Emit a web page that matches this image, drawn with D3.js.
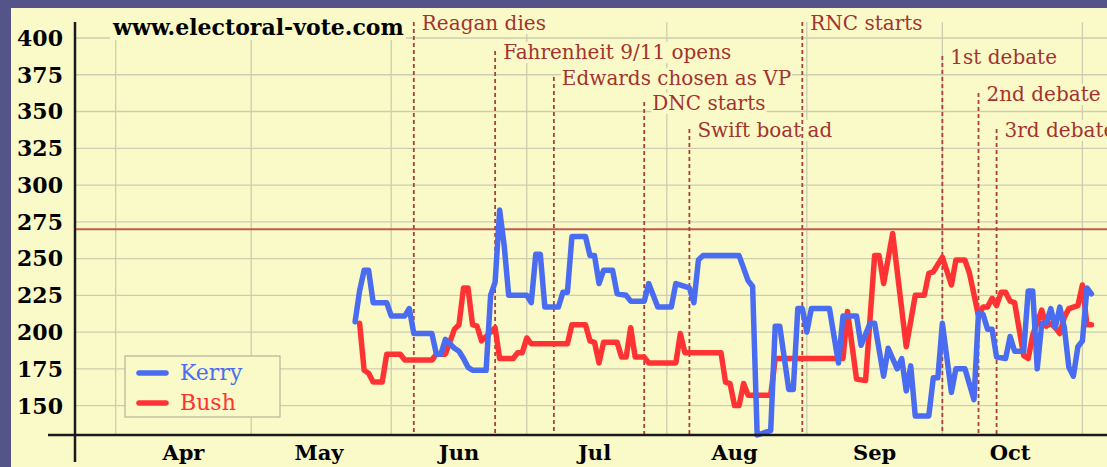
<!DOCTYPE html>
<html lang="en">
<head>
<meta charset="UTF-8">
<title>Electoral votes 2004</title>
<script src="https://d3js.org/d3.v7.min.js"></script>
<style>
  body { margin: 0; background: #545488; overflow: hidden; }
  svg { display: block; }
</style>
</head>
<body>
<div id="chart"></div>
<script>
// electoral votes per day
const kerryDates = [
  "2004-05-24", "2004-05-25", "2004-05-26", "2004-05-27", "2004-05-28", "2004-05-31",
  "2004-06-01", "2004-06-04", "2004-06-05", "2004-06-06", "2004-06-10", "2004-06-11",
  "2004-06-12", "2004-06-13", "2004-06-15", "2004-06-16", "2004-06-17", "2004-06-18",
  "2004-06-19", "2004-06-22", "2004-06-23", "2004-06-24", "2004-06-25", "2004-06-26",
  "2004-06-27", "2004-07-01", "2004-07-02", "2004-07-03", "2004-07-04", "2004-07-05",
  "2004-07-08", "2004-07-09", "2004-07-10", "2004-07-11", "2004-07-14", "2004-07-15",
  "2004-07-16", "2004-07-17", "2004-07-18", "2004-07-20", "2004-07-21", "2004-07-23",
  "2004-07-24", "2004-07-27", "2004-07-28", "2004-07-30", "2004-08-02", "2004-08-03",
  "2004-08-06", "2004-08-07", "2004-08-08", "2004-08-09", "2004-08-17", "2004-08-19",
  "2004-08-20", "2004-08-21", "2004-08-24", "2004-08-25", "2004-08-26", "2004-08-28",
  "2004-08-29", "2004-08-30", "2004-08-31", "2004-09-01", "2004-09-02", "2004-09-06",
  "2004-09-08", "2004-09-09", "2004-09-12", "2004-09-13", "2004-09-15", "2004-09-16",
  "2004-09-18", "2004-09-19", "2004-09-21", "2004-09-22", "2004-09-23", "2004-09-24",
  "2004-09-25", "2004-09-28", "2004-09-29", "2004-09-30", "2004-10-01", "2004-10-03",
  "2004-10-04", "2004-10-06", "2004-10-08", "2004-10-09", "2004-10-10", "2004-10-11",
  "2004-10-12", "2004-10-13", "2004-10-15", "2004-10-16", "2004-10-17", "2004-10-19",
  "2004-10-20", "2004-10-21", "2004-10-22", "2004-10-23", "2004-10-24", "2004-10-25",
  "2004-10-26", "2004-10-27", "2004-10-28", "2004-10-29", "2004-10-30", "2004-10-31",
  "2004-11-01", "2004-11-02", "2004-11-03"
];
const kerryVotes = [
  207, 228, 242, 242, 220, 220,
  211, 211, 216, 199, 199, 185,
  185, 195, 189, 187, 182, 176,
  174, 174, 225, 234, 283, 259,
  225, 225, 220, 253, 253, 217,
  217, 227, 227, 265, 265, 252,
  252, 233, 242, 242, 226, 225,
  221, 221, 233, 217, 217, 233,
  230, 220, 249, 252, 252, 235,
  231, 130, 133, 204, 204, 161,
  161, 216, 216, 200, 216, 216,
  179, 211, 211, 191, 206, 206,
  170, 189, 175, 182, 160, 177,
  143, 143, 169, 169, 206, 159,
  175, 175, 154, 213, 212, 202,
  202, 183, 182, 197, 187, 187,
  228, 228, 175, 206, 206, 216,
  203, 217, 203, 176, 170, 190,
  194, 230, 226
];

const bushDates = [
  "2004-05-25", "2004-05-26", "2004-05-27", "2004-05-28", "2004-05-30", "2004-05-31",
  "2004-06-03", "2004-06-04", "2004-06-10", "2004-06-11", "2004-06-13", "2004-06-15",
  "2004-06-16", "2004-06-17", "2004-06-18", "2004-06-19", "2004-06-20", "2004-06-21",
  "2004-06-24", "2004-06-25", "2004-06-28", "2004-06-29", "2004-06-30", "2004-07-01",
  "2004-07-02", "2004-07-10", "2004-07-11", "2004-07-14", "2004-07-15", "2004-07-16",
  "2004-07-17", "2004-07-18", "2004-07-21", "2004-07-22", "2004-07-23", "2004-07-24",
  "2004-07-25", "2004-07-27", "2004-07-28", "2004-08-03", "2004-08-04", "2004-08-05",
  "2004-08-13", "2004-08-14", "2004-08-15", "2004-08-16", "2004-08-17", "2004-08-18",
  "2004-08-19", "2004-08-24", "2004-08-25", "2004-09-09", "2004-09-10", "2004-09-12",
  "2004-09-14", "2004-09-16", "2004-09-17", "2004-09-18", "2004-09-20", "2004-09-23",
  "2004-09-25", "2004-09-27", "2004-09-28", "2004-09-29", "2004-10-01", "2004-10-03",
  "2004-10-04", "2004-10-06", "2004-10-07", "2004-10-09", "2004-10-10", "2004-10-11",
  "2004-10-12", "2004-10-13", "2004-10-14", "2004-10-15", "2004-10-16", "2004-10-17",
  "2004-10-19", "2004-10-20", "2004-10-21", "2004-10-23", "2004-10-24", "2004-10-25",
  "2004-10-26", "2004-10-27", "2004-10-28", "2004-10-29", "2004-10-31", "2004-11-01",
  "2004-11-02", "2004-11-03"
];
const bushVotes = [
  206, 174, 172, 166, 166, 185,
  185, 181, 181, 185, 185, 202,
  205, 230, 230, 205, 204, 194,
  203, 182, 182, 186, 186, 196,
  192, 192, 205, 205, 194, 193,
  179, 193, 193, 183, 183, 203,
  183, 183, 179, 179, 199, 186,
  186, 166, 165, 150, 150, 165,
  157, 157, 182, 182, 214, 168,
  167, 252, 252, 233, 267, 190,
  225, 225, 240, 241, 251, 232,
  249, 249, 240, 211, 217, 217,
  223, 218, 227, 227, 221, 220,
  184, 182, 198, 215, 204, 206,
  203, 199, 210, 216, 218, 232,
  205, 205
];

const eventNames = ["Reagan dies", "Fahrenheit 9/11 opens", "Edwards chosen as VP", "DNC starts",
  "Swift boat ad", "RNC starts", "1st debate", "2nd debate", "3rd debate"];
const eventDates = ["2004-06-06", "2004-06-24", "2004-07-07", "2004-07-27",
  "2004-08-06", "2004-08-31", "2004-10-01", "2004-10-09", "2004-10-13"];

const yTicks = [150, 175, 200, 225, 250, 275, 300, 325, 350, 375, 400];
const monthLabels = ["Apr", "May", "Jun", "Jul", "Aug", "Sep", "Oct"];
const majority = 270;

var W = 1107, H = 467;
var BG = "#fafac8", FONT = "DejaVu Serif";
var parse = d3.timeParse("%Y-%m-%d");

var x = d3.scaleTime()
    .domain([parse("2004-03-23"), parse("2004-11-06")])
    .range([75, 1105]);
var y = d3.scaleLinear()
    .domain([130, 400])
    .range([435, 38]);

var svg = d3.select("#chart").append("svg")
    .attr("width", W)
    .attr("height", H);

// frame + plot background
svg.append("rect").attr("width", W).attr("height", H).attr("fill", "#545488");
svg.append("rect").attr("x", 11).attr("y", 8).attr("width", W - 11).attr("height", H - 8).attr("fill", BG);

// grid
svg.append("g").selectAll("line").data(yTicks).enter().append("line")
    .attr("x1", 75).attr("x2", W)
    .attr("y1", function (d) { return y(d); })
    .attr("y2", function (d) { return y(d); })
    .attr("stroke", "#cdcdb0").attr("stroke-width", 1.3);

var monthStarts = d3.timeMonth.range(parse("2004-04-01"), parse("2004-11-02"));
svg.append("g").selectAll("line").data(monthStarts).enter().append("line")
    .attr("x1", function (d) { return x(d); })
    .attr("x2", function (d) { return x(d); })
    .attr("y1", 22).attr("y2", 435)
    .attr("stroke", "#cdcdb0").attr("stroke-width", 1.3);

// 270 to win
svg.append("line")
    .attr("x1", 75).attr("x2", W)
    .attr("y1", y(majority)).attr("y2", y(majority))
    .attr("stroke", "#bd5d55").attr("stroke-width", 2);

// watermark, with a box that hides the grid under it
var mark = svg.append("text")
    .attr("x", 113).attr("y", 35)
    .attr("font-family", FONT).attr("font-weight", "bold").attr("font-size", 22)
    .text("www.electoral-vote.com");
var mb = mark.node().getBBox();
svg.insert("rect", "text").attr("x", mb.x - 2).attr("y", mb.y).attr("width", mb.width + 4).attr("height", mb.height)
    .attr("fill", BG);

// events
var labelY = [30, 59, 85, 110, 137, 30, 64, 101, 137];
var events = eventNames.map(function (name, i) {
    return {name: name, date: parse(eventDates[i]), ly: labelY[i]};
});
var ev = svg.append("g").selectAll("g").data(events).enter().append("g");
var evText = ev.append("text")
    .attr("x", function (d) { return x(d.date) + 8; })
    .attr("y", function (d) { return d.ly; })
    .attr("font-family", FONT).attr("font-size", 20)
    .attr("fill", "#a3332f")
    .text(function (d) { return d.name; });
evText.each(function () {
    var b = this.getBBox();
    d3.select(this.parentNode).insert("rect", "text")
        .attr("x", b.x - 1).attr("y", b.y + 2).attr("width", b.width + 2).attr("height", b.height - 3)
        .attr("fill", BG);
});
ev.append("line")
    .attr("x1", function (d) { return x(d.date); })
    .attr("x2", function (d) { return x(d.date); })
    .attr("y1", function (d) { return d.ly - 8; })
    .attr("y2", 435)
    .attr("stroke", "#a8403b").attr("stroke-width", 1.8)
    .attr("stroke-dasharray", "4,3");

// candidate lines
var kerry = kerryDates.map(function (d, i) { return {date: parse(d), votes: kerryVotes[i]}; });
var bush = bushDates.map(function (d, i) { return {date: parse(d), votes: bushVotes[i]}; });
var line = d3.line()
    .x(function (d) { return x(d.date); })
    .y(function (d) { return y(d.votes); });

svg.append("path").datum(bush).attr("d", line)
    .attr("fill", "none").attr("stroke", "#ff3333").attr("stroke-width", 5.5)
    .attr("stroke-linejoin", "round").attr("stroke-linecap", "round");
svg.append("path").datum(kerry).attr("d", line)
    .attr("fill", "none").attr("stroke", "#4a6cf0").attr("stroke-width", 5.5)
    .attr("stroke-linejoin", "round").attr("stroke-linecap", "round");

// axes
svg.append("line").attr("x1", 75).attr("x2", 75).attr("y1", 22).attr("y2", 462)
    .attr("stroke", "#1a1a1a").attr("stroke-width", 2.5);
svg.append("line").attr("x1", 48).attr("x2", W).attr("y1", 435).attr("y2", 435)
    .attr("stroke", "#1a1a1a").attr("stroke-width", 2.5);

svg.append("g").selectAll("text").data(yTicks).enter().append("text")
    .attr("x", 63)
    .attr("y", function (d) { return y(d); })
    .attr("dy", "0.36em")
    .attr("text-anchor", "end")
    .attr("font-family", FONT).attr("font-weight", "bold").attr("font-size", 22)
    .text(function (d) { return d; });

svg.append("g").selectAll("text").data(monthLabels).enter().append("text")
    .attr("x", function (d, i) { return x(new Date(2004, 3 + i, 16)); })
    .attr("y", 460)
    .attr("text-anchor", "middle")
    .attr("font-family", FONT).attr("font-weight", "bold").attr("font-size", 21)
    .text(function (d) { return d; });

// legend
var legend = svg.append("g");
legend.append("rect").attr("x", 125).attr("y", 356).attr("width", 155).attr("height", 61)
    .attr("fill", BG).attr("stroke", "#b4b49c").attr("stroke-width", 1.2);
[["Kerry", "#4a6cf0"], ["Bush", "#ff3333"]].forEach(function (s, i) {
    var ly = 373 + i * 30;
    legend.append("line").attr("x1", 139).attr("x2", 166).attr("y1", ly).attr("y2", ly)
        .attr("stroke", s[1]).attr("stroke-width", 5.5).attr("stroke-linecap", "round");
    legend.append("text").attr("x", 180).attr("y", ly + 7)
        .attr("font-family", FONT).attr("font-size", 22).attr("fill", s[1])
        .text(s[0]);
});
</script>
</body>
</html>
